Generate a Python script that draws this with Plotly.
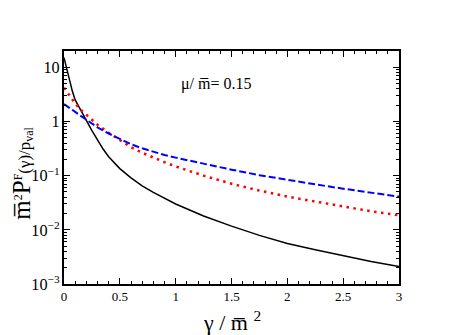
import plotly.graph_objects as go

# gamma / mbar^2 sample points
gam_black = [0, 0.025, 0.05, 0.075, 0.1, 0.15, 0.2, 0.25, 0.3, 0.35, 0.4, 0.5, 0.6, 0.7, 0.8, 0.9,
             1.0, 1.25, 1.5, 1.75, 2.0, 2.25, 2.5, 2.75, 3.0]
p_black = [15, 9.3, 5.6, 3.6, 2.5, 1.58, 1.05, 0.68, 0.45, 0.31, 0.224, 0.135, 0.091, 0.065,
           0.049, 0.038, 0.030, 0.018, 0.0117, 0.0079, 0.0056, 0.0043, 0.0033, 0.0026, 0.0021]

gam_blue = [0, 0.05, 0.1, 0.15, 0.2, 0.25, 0.3, 0.4, 0.5, 0.6, 0.7, 0.8, 0.9,
            1.0, 1.25, 1.5, 1.75, 2.0, 2.25, 2.5, 2.75, 3.0]
p_blue = [2.1, 1.8, 1.5, 1.27, 1.08, 0.91, 0.78, 0.6, 0.47, 0.38, 0.32, 0.275, 0.24,
          0.215, 0.165, 0.129, 0.102, 0.083, 0.069, 0.0575, 0.049, 0.041]

gam_red = [0, 0.05, 0.1, 0.15, 0.2, 0.25, 0.3, 0.4, 0.5, 0.6, 0.7, 0.8, 0.9,
           1.0, 1.25, 1.5, 1.75, 2.0, 2.25, 2.5, 2.75, 3.0]
p_red = [4.2, 3.0, 2.15, 1.65, 1.33, 1.06, 0.87, 0.62, 0.46, 0.335, 0.265, 0.215, 0.177,
         0.148, 0.1, 0.071, 0.053, 0.041, 0.033, 0.027, 0.022, 0.0186]

FONT = "Liberation Serif, Times New Roman, Times, serif"

fig = go.Figure()
fig.add_trace(go.Scatter(x=gam_black, y=p_black, mode="lines",
                         line=dict(color="black", width=1.5)))
fig.add_trace(go.Scatter(x=gam_red, y=p_red, mode="lines",
                         line=dict(color="#ff0000", width=2.5, dash="2.5px,4.5px")))
fig.add_trace(go.Scatter(x=gam_blue, y=p_blue, mode="lines",
                         line=dict(color="#0000ff", width=2, dash="7px,3px")))

axis_common = dict(
    showline=True, linecolor="black", linewidth=1.5, mirror="allticks",
    ticks="inside", ticklen=6, tickcolor="black", tickwidth=1,
    showgrid=False, zeroline=False,
    tickfont=dict(family=FONT, size=13, color="black"),
)

fig.update_xaxes(range=[0, 3], dtick=0.5,
                 minor=dict(dtick=0.1, ticks="inside", ticklen=3, tickcolor="black"),
                 **axis_common)
fig.update_yaxes(type="log", range=[-3, 1.301], dtick=1, exponentformat="power",
                 minor=dict(dtick="D1", ticks="inside", ticklen=3, tickcolor="black"),
                 **axis_common)

fig.add_annotation(text="μ/ m\u0305= 0.15", xref="paper", yref="paper",
                   x=0.455, y=0.86, xanchor="center", yanchor="middle", showarrow=False,
                   font=dict(family=FONT, size=16, color="black"))
fig.add_annotation(
    text="<span style='font-size:25px'>m\u0305</span><sup>2</sup>"
         "<span style='font-size:25px'>P</span><sup>F</sup>(γ)/p<sub>val</sub>",
    xref="paper", yref="paper", x=-0.125, y=0.474, xanchor="center", yanchor="middle",
    textangle=-90, showarrow=False,
    font=dict(family=FONT, size=17, color="black"))
fig.add_annotation(text="γ / m\u0305 <sup>2</sup>", xref="paper", yref="paper",
                   x=0.5, y=-0.16, xanchor="center", yanchor="middle", showarrow=False,
                   font=dict(family=FONT, size=22, color="black"))

# the page body adds an 8px offset, so the margins are shifted to compensate
fig.update_layout(
    width=474, height=335,
    margin=dict(l=56, r=83, t=43, b=59),
    paper_bgcolor="white", plot_bgcolor="white",
    showlegend=False,
)

fig.write_html("out.html")
